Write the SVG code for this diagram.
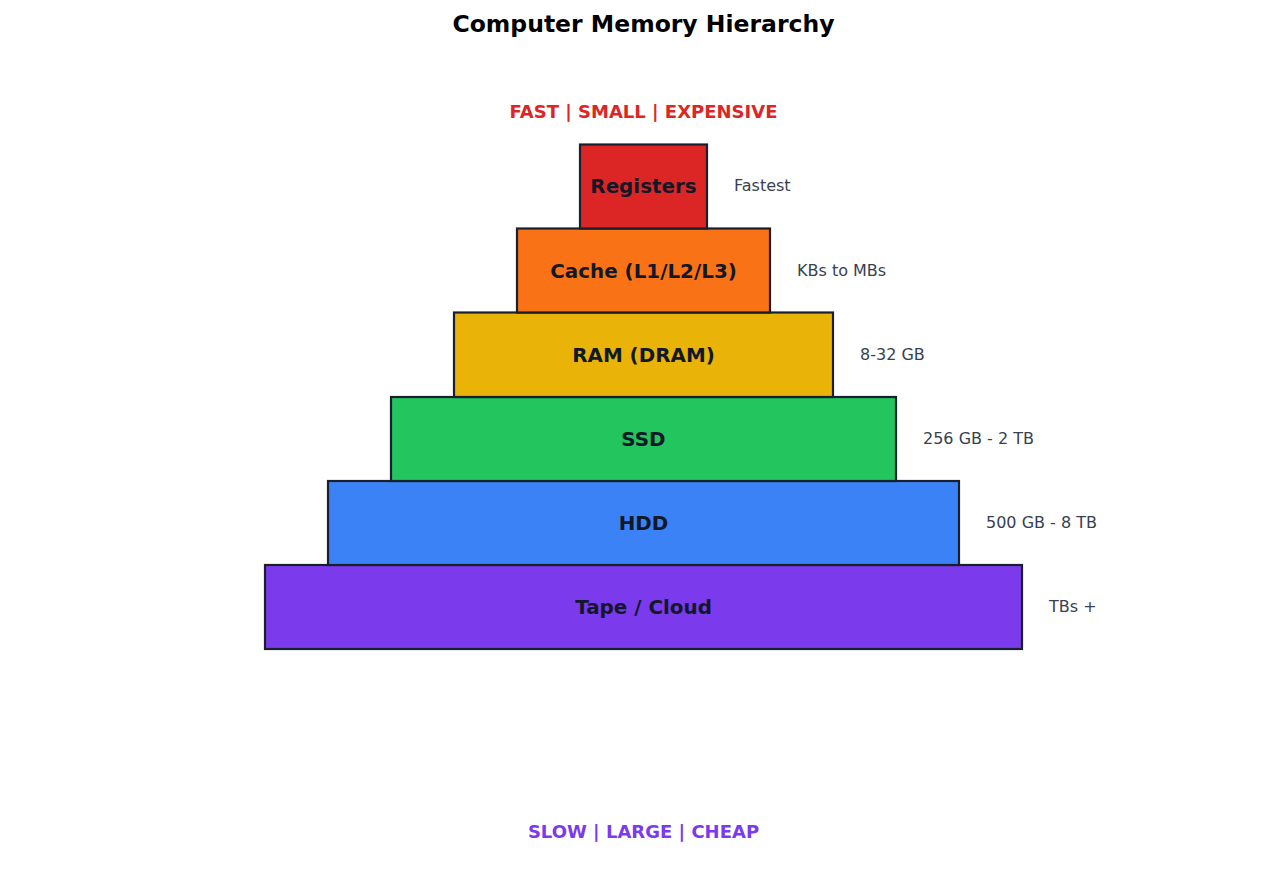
<svg xmlns="http://www.w3.org/2000/svg" width="1287" height="896" viewBox="0 0 1287 896">
<style>
text{font-family:"DejaVu Sans","Liberation Sans",sans-serif}
.title{font-size:23.5px;font-weight:bold;fill:#000;text-anchor:middle}
.tier{stroke:#1a1f2e;stroke-width:2.2}
.lbl{font-size:19.9px;font-weight:bold;fill:#111827;text-anchor:middle}
.side{font-size:16px;fill:#374151}
.edge{font-size:18px;font-weight:bold;text-anchor:middle}
</style>
<rect width="1287" height="896" fill="#fff"/>
<text class="title" x="643.5" y="31.5">Computer Memory Hierarchy</text>
<text class="edge" x="643.5" y="118" fill="#dc2626">FAST | SMALL | EXPENSIVE</text>
<g id="tape"><rect class="tier" x="265" y="565" width="757" height="84" fill="#7c3aed"/><text class="lbl" x="643.5" y="613.5">Tape / Cloud</text><text class="side" x="1049" y="612">TBs +</text></g>
<g id="hdd"><rect class="tier" x="328" y="481" width="631" height="84" fill="#3b82f6"/><text class="lbl" x="643.5" y="529.5">HDD</text><text class="side" x="986" y="528">500 GB - 8 TB</text></g>
<g id="ssd"><rect class="tier" x="391" y="397" width="505" height="84" fill="#22c55e"/><text class="lbl" x="643.5" y="445.5">SSD</text><text class="side" x="923" y="444">256 GB - 2 TB</text></g>
<g id="ram"><rect class="tier" x="454" y="312.5" width="379" height="84.5" fill="#eab308"/><text class="lbl" x="643.5" y="361.5">RAM (DRAM)</text><text class="side" x="860" y="360">8-32 GB</text></g>
<g id="cache"><rect class="tier" x="517" y="228.5" width="253" height="84" fill="#f97316"/><text class="lbl" x="643.5" y="277.5">Cache (L1/L2/L3)</text><text class="side" x="797" y="276">KBs to MBs</text></g>
<g id="registers"><rect class="tier" x="580" y="144.5" width="127" height="84" fill="#dc2626"/><text class="lbl" x="643.5" y="192.5">Registers</text><text class="side" x="734" y="191">Fastest</text></g>
<text class="edge" x="643.5" y="837.5" fill="#7c3aed">SLOW | LARGE | CHEAP</text>
</svg>
